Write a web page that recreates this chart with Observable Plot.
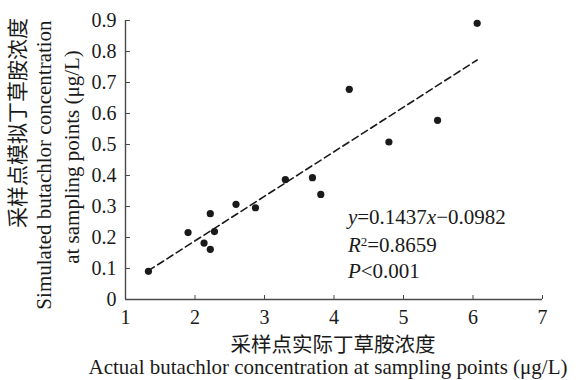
<!DOCTYPE html>
<html>
<head>
<meta charset="utf-8">
<script src="https://cdn.jsdelivr.net/npm/d3@7"></script>
<script src="https://cdn.jsdelivr.net/npm/@observablehq/plot@0.6"></script>
<style>
  html, body { margin: 0; padding: 0; background: #fff; }
  svg text { font-family: "Liberation Serif", "Noto Sans CJK SC", serif; }
</style>
</head>
<body>
<div id="chart"></div>
<script>
// Data
const actual = [1.33, 1.90, 2.13, 2.22, 2.22, 2.28, 2.59, 2.87, 3.30, 3.69, 3.81, 4.22, 4.79, 5.49, 6.06];
const simulated = [0.091, 0.216, 0.182, 0.277, 0.162, 0.219, 0.307, 0.296, 0.387, 0.393, 0.339, 0.678, 0.508, 0.578, 0.891];
const xTicks = [1, 2, 3, 4, 5, 6, 7];
const yTicks = [0, 0.1, 0.2, 0.3, 0.4, 0.5, 0.6, 0.7, 0.8, 0.9];
const slope = 0.1437;
const intercept = -0.0982;
const annotationLines = ["y=0.1437x\u22120.0982", "R2=0.8659", "P<0.001"];
const annotationY = [0.265, 0.175, 0.091];
const annotationX = 4.2;
const yTitleLines = ["采样点模拟丁草胺浓度", "Simulated butachlor concentration", "at sampling points (\u03bcg/L)"];
const xTitleLines = ["采样点实际丁草胺浓度", "Actual butachlor concentration at sampling points (\u03bcg/L)"];

const points = actual.map((x, i) => ({x, y: simulated[i]}));
const xMin = d3.min(actual), xMax = d3.max(actual);
const fitLine = [xMin, xMax].map(x => ({x, y: slope * x + intercept}));
const annotation = annotationLines.map((t, i) => ({t, x: annotationX, y: annotationY[i]}));

const ink = "#1a1a1a";
const axisColor = "#4a4a4a";
const titleStyle = {textAnchor: "middle", lineAnchor: "middle", fill: ink};

const chart = Plot.plot({
  width: 577,
  height: 380,
  marginLeft: 125,
  marginRight: 35,
  marginTop: 20,
  marginBottom: 81,
  style: {fontFamily: '"Liberation Serif", "Noto Sans CJK SC", serif', background: "#fff", color: ink, overflow: "visible"},
  x: {domain: [1, 7]},
  y: {domain: [0, 0.9]},
  marks: [
    Plot.axisX({ticks: xTicks, tickSize: -4, tickPadding: 14, stroke: axisColor, fontSize: 20, label: null, tickFormat: d => String(d), fill: ink}),
    Plot.axisY({ticks: yTicks, tickSize: -5, tickPadding: 14, stroke: axisColor, fontSize: 20, label: null, tickFormat: d => d === 0 ? "0" : d.toFixed(1), fill: ink}),
    Plot.ruleX([1], {stroke: axisColor, strokeWidth: 1.4}),
    Plot.ruleY([0], {stroke: axisColor, strokeWidth: 1.4}),
    Plot.line(fitLine, {x: "x", y: "y", stroke: ink, strokeWidth: 1.6, strokeDasharray: "7,4"}),
    Plot.dot(points, {x: "x", y: "y", r: 3.6, fill: ink, stroke: "none"}),
    Plot.text(annotation, {x: "x", y: "y", text: "t", textAnchor: "start", lineAnchor: "middle", fontSize: 21, fill: ink}),
    // Axis titles
    Plot.text([yTitleLines[0]], {frameAnchor: "left", dx: -107, dy: -37, rotate: -90, fontSize: 21, ...titleStyle}),
    Plot.text([yTitleLines[1]], {frameAnchor: "left", dx: -81, dy: 5, rotate: -90, fontSize: 21, ...titleStyle}),
    Plot.text([yTitleLines[2]], {frameAnchor: "left", dx: -53, dy: -3, rotate: -90, fontSize: 21, ...titleStyle}),
    Plot.text([xTitleLines[0]], {frameAnchor: "bottom", dx: -1, dy: 45.5, fontSize: 20.5, ...titleStyle}),
    Plot.text([xTitleLines[1]], {frameAnchor: "bottom", dx: -6, dy: 67.5, fontSize: 21, ...titleStyle})
  ]
});

// Rich formatting (italic variables, superscript) for the annotation text
d3.select(chart).selectAll("text").each(function() {
  const t = this.textContent;
  const sel = d3.select(this);
  if (t === annotationLines[0]) {
    sel.text(null);
    sel.append("tspan").attr("font-style", "italic").text("y");
    sel.append("tspan").text("=0.1437");
    sel.append("tspan").attr("font-style", "italic").text("x");
    sel.append("tspan").text("\u22120.0982");
  } else if (t === annotationLines[1]) {
    sel.text(null);
    sel.append("tspan").attr("font-style", "italic").text("R");
    sel.append("tspan").attr("font-size", "0.62em").attr("dy", "-0.45em").text("2");
    sel.append("tspan").attr("dy", "0.28em").text("=0.8659");
  } else if (t === annotationLines[2]) {
    sel.text(null);
    sel.append("tspan").attr("font-style", "italic").text("P");
    sel.append("tspan").text("<0.001");
  }
});

document.getElementById("chart").appendChild(chart);
</script>
</body>
</html>
